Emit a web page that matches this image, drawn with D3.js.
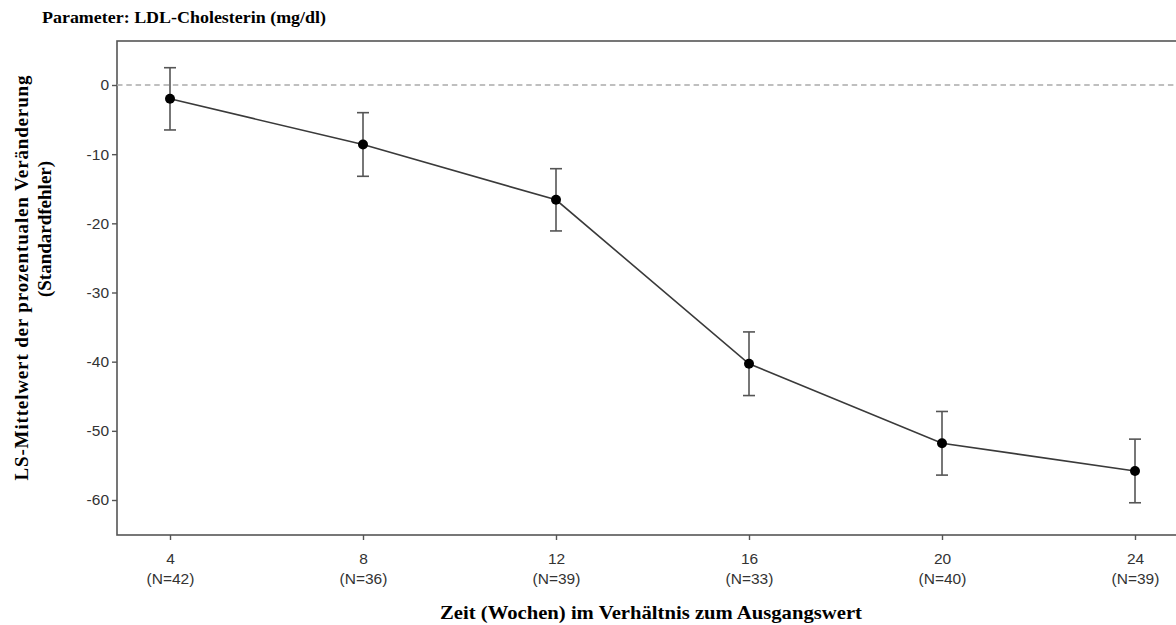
<!DOCTYPE html>
<html>
<head>
<meta charset="utf-8">
<script src="https://cdn.jsdelivr.net/npm/d3@7"></script>
<style>
  body { margin: 0; background: #fff; }
  svg { display: block; }
</style>
</head>
<body>
<div id="chart"></div>
<script>
// data (LS mean % change, +/- SE)
const weeks = [4, 8, 12, 16, 20, 24];
const nLabels = ["(N=42)", "(N=36)", "(N=39)", "(N=33)", "(N=40)", "(N=39)"];
const lsMean = [-2.0, -8.6, -16.6, -40.3, -51.8, -55.8];
const stdErr = [4.5, 4.6, 4.5, 4.6, 4.6, 4.6];
const yTicks = [0, -10, -20, -30, -40, -50, -60];

const W = 1176, H = 625;
const plot = { left: 117, top: 41, right: 1188, bottom: 535 };

const svg = d3.select("#chart").append("svg").attr("width", W).attr("height", H);

const x = d3.scaleLinear().domain([4, 24]).range([170, 1135]);
const y = d3.scaleLinear().domain([0, -60]).range([85, 500]);

// frame (right side runs off the page like in the original)
svg.append("rect")
  .attr("x", plot.left).attr("y", plot.top)
  .attr("width", plot.right - plot.left).attr("height", plot.bottom - plot.top)
  .attr("fill", "none").attr("stroke", "#555").attr("stroke-width", 1.6);

// reference line at 0
svg.append("line")
  .attr("x1", plot.left).attr("x2", W)
  .attr("y1", y(0)).attr("y2", y(0))
  .attr("stroke", "#aaa").attr("stroke-width", 1.3).attr("stroke-dasharray", "5.5,3.8");

const sans = "'Liberation Sans', Arial, sans-serif";

// y axis (plain hyphen minus like the original)
const yAxis = svg.append("g").attr("transform", `translate(${plot.left},0)`)
  .call(d3.axisLeft(y).tickValues(yTicks).tickSize(5).tickPadding(3).tickFormat(d => String(d)));
yAxis.select(".domain").remove();
yAxis.selectAll(".tick line").attr("stroke", "#555").attr("stroke-width", 1.4);
yAxis.selectAll(".tick text").attr("fill", "#333").attr("font-size", 15.5).attr("font-family", sans);

// x axis, two-line labels added by hand
const xAxis = svg.append("g").attr("transform", `translate(0,${plot.bottom})`)
  .call(d3.axisBottom(x).tickValues(weeks).tickSize(5).tickFormat(""));
xAxis.select(".domain").remove();
xAxis.selectAll(".tick line").attr("stroke", "#555").attr("stroke-width", 1.4);
xAxis.selectAll(".tick").append("text")
  .attr("fill", "#333").attr("font-size", 15.5).attr("text-anchor", "middle").attr("font-family", sans)
  .each(function(d, i) {
    const t = d3.select(this);
    t.append("tspan").attr("x", 0).attr("y", 29).text(d);
    t.append("tspan").attr("x", 0).attr("y", 49).text(nLabels[i]);
  });

const pts = weeks.map((w, i) => ({ w, m: lsMean[i], se: stdErr[i] }));

// error bars
const eb = svg.append("g").attr("stroke", "#555").attr("stroke-width", 1.6);
eb.selectAll(".v").data(pts).enter().append("line")
  .attr("x1", d => x(d.w)).attr("x2", d => x(d.w))
  .attr("y1", d => y(d.m + d.se)).attr("y2", d => y(d.m - d.se));
eb.selectAll(".c1").data(pts).enter().append("line")
  .attr("x1", d => x(d.w) - 6).attr("x2", d => x(d.w) + 6)
  .attr("y1", d => y(d.m + d.se)).attr("y2", d => y(d.m + d.se));
eb.selectAll(".c2").data(pts).enter().append("line")
  .attr("x1", d => x(d.w) - 6).attr("x2", d => x(d.w) + 6)
  .attr("y1", d => y(d.m - d.se)).attr("y2", d => y(d.m - d.se));

// mean line + markers
svg.append("path").datum(pts)
  .attr("fill", "none").attr("stroke", "#3a3a3a").attr("stroke-width", 1.6)
  .attr("d", d3.line().x(d => x(d.w)).y(d => y(d.m)));
svg.selectAll(".pt").data(pts).enter().append("circle")
  .attr("cx", d => x(d.w)).attr("cy", d => y(d.m)).attr("r", 5).attr("fill", "#000");

// titles
const serif = "'Liberation Serif', 'Times New Roman', serif";
svg.append("text").attr("x", 42).attr("y", 23)
  .attr("font-family", serif).attr("font-weight", "bold").attr("font-size", 16.5)
  .attr("textLength", 284).attr("lengthAdjust", "spacingAndGlyphs").text("Parameter: LDL-Cholesterin (mg/dl)");

svg.append("text").attr("x", 651).attr("y", 619).attr("text-anchor", "middle")
  .attr("font-family", serif).attr("font-weight", "bold").attr("font-size", 19)
  .attr("textLength", 422).attr("lengthAdjust", "spacingAndGlyphs").text("Zeit (Wochen) im Verhältnis zum Ausgangswert");

svg.append("text").attr("transform", "translate(28,278) rotate(-90)").attr("text-anchor", "middle")
  .attr("font-family", serif).attr("font-weight", "bold").attr("font-size", 19)
  .attr("textLength", 405).text("LS-Mittelwert der prozentualen Veränderung");
svg.append("text").attr("transform", "translate(51,229) rotate(-90)").attr("text-anchor", "middle")
  .attr("font-family", serif).attr("font-weight", "bold").attr("font-size", 19)
  .text("(Standardfehler)");
</script>
</body>
</html>
